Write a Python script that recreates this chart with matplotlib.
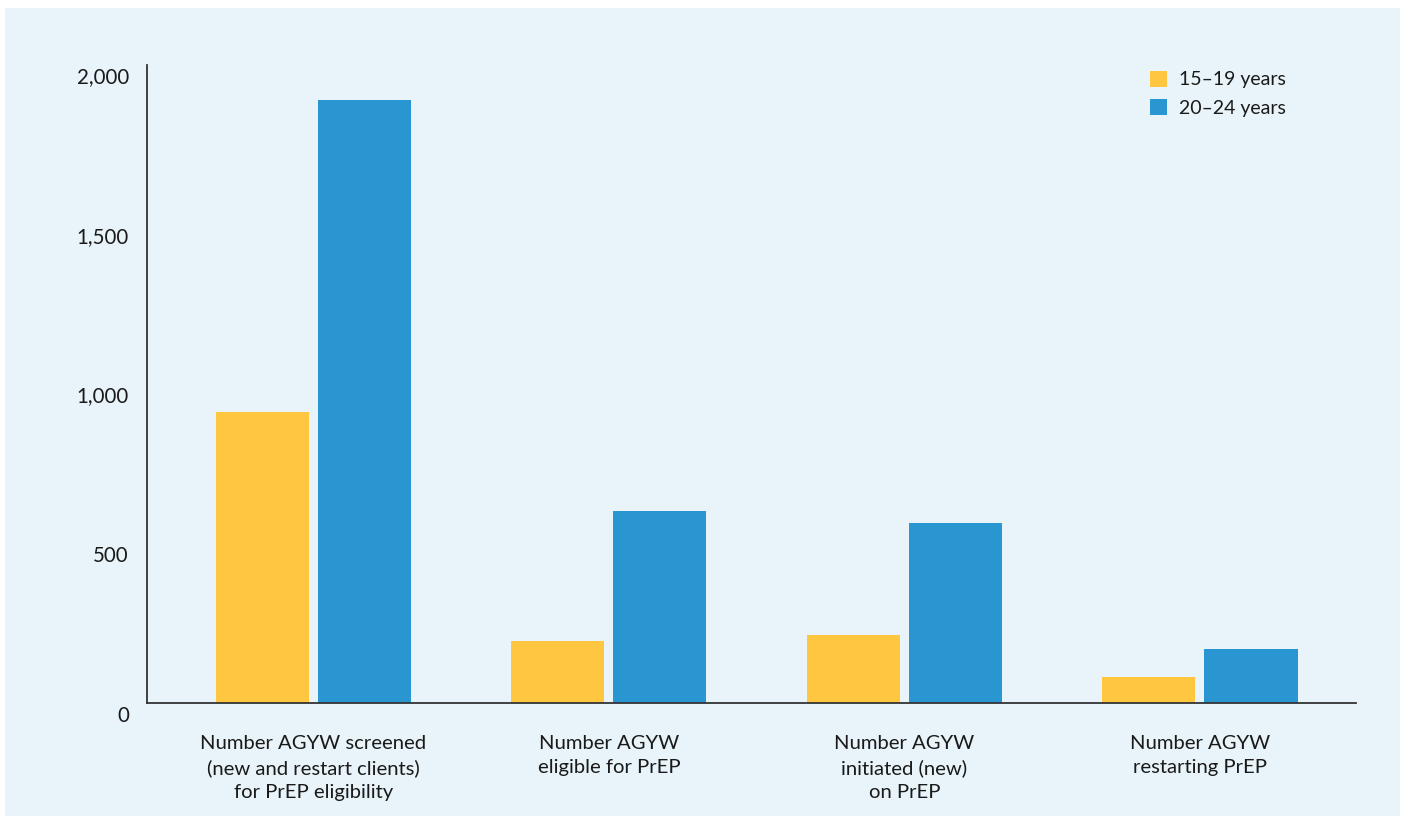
import matplotlib
matplotlib.use("Agg")
import matplotlib.pyplot as plt
import matplotlib.transforms as mtransforms
from matplotlib.patches import Rectangle
import numpy as np

categories = [
    "Number AGYW screened\n(new and restart clients)\nfor PrEP eligibility",
    "Number AGYW\neligible for PrEP",
    "Number AGYW\ninitiated (new)\non PrEP",
    "Number AGYW\nrestarting PrEP",
]
series_names = ["15\u201319 years", "20\u201324 years"]
values_15_19 = [912, 194, 213, 82]
values_20_24 = [1890, 602, 564, 169]
yticks = [0, 500, 1000, 1500, 2000]
ytick_labels = ["0", "500", "1,000", "1,500", "2,000"]

YELLOW = "#FFC640"
BLUE = "#2996D2"
BG = "#E8F4F9"
TEXT = "#1a1a1a"

plt.rcParams['font.family'] = ['Lato', 'DejaVu Sans']

W, H = 1407, 816
fig = plt.figure(figsize=(W / 100, H / 100), dpi=100, facecolor="white")
fig.patches.append(Rectangle((5 / W, 0), (1400 - 5) / W, (H - 8) / H,
                             transform=fig.transFigure, facecolor=BG,
                             edgecolor="none", zorder=-10))

ax = fig.add_axes([147 / W, (H - 703) / H, (1356 - 147) / W, (703 - 65) / H])
ax.set_facecolor("none")

x = np.arange(len(categories))
bw = 0.315
off = 0.1726
ax.bar(x - off, values_15_19, width=bw, color=YELLOW, label=series_names[0], zorder=2)
ax.bar(x + off, values_20_24, width=bw, color=BLUE, label=series_names[1], zorder=2)

ax.set_xlim(-0.563, 3.528)
ax.set_ylim(0, 2000)

for s in ["top", "right"]:
    ax.spines[s].set_visible(False)
for s in ["left", "bottom"]:
    ax.spines[s].set_color("#333333")
    ax.spines[s].set_linewidth(1.3)

ax.set_yticks(yticks)
ax.set_yticklabels(ytick_labels, fontsize=14.8, color=TEXT)
ax.tick_params(axis="y", length=0, pad=13)
offset = mtransforms.ScaledTranslation(0, -10.5 / 100, fig.dpi_scale_trans)
for lbl in ax.get_yticklabels():
    lbl.set_transform(lbl.get_transform() + offset)

ax.set_xticks(x)
ax.set_xticklabels(categories, fontsize=14.6, color=TEXT, linespacing=1.5)
ax.tick_params(axis="x", length=0, pad=23)

leg = ax.legend(loc="upper left", bbox_to_anchor=(1150 / W, (H - 71) / H),
                bbox_transform=fig.transFigure, frameon=False, fontsize=14,
                handlelength=0.85, handleheight=0.85, handletextpad=0.65,
                labelspacing=0.55, borderpad=0, borderaxespad=0)
for t in leg.get_texts():
    t.set_color(TEXT)

fig.savefig("out.png", dpi=100, facecolor="white")
